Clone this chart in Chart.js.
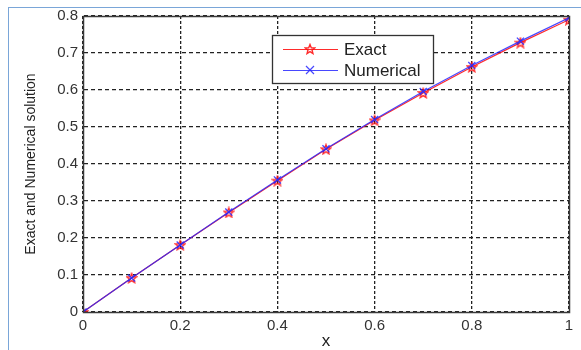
<!DOCTYPE html>
<html>
<head>
<meta charset="utf-8">
<script src="https://cdn.jsdelivr.net/npm/chart.js@4"></script>
<style>
  html, body { margin: 0; padding: 0; background: #fff; overflow: hidden; }
  #wrap { position: relative; width: 581px; height: 350px; }
  #frame { position: absolute; left: 8px; top: 7px; width: 600px; height: 400px;
           border-left: 1px solid #7aa6d8; border-top: 1px solid #7aa6d8; pointer-events: none; }
</style>
</head>
<body>
<div id="wrap">
  <canvas id="grafico" width="581" height="350"></canvas>
  <div id="frame"></div>
</div>
<script>
const xValores = [0, 0.1, 0.2, 0.3, 0.4, 0.5, 0.6, 0.7, 0.8, 0.9, 1];
const exata = [0, 0.092, 0.181, 0.269, 0.355, 0.440, 0.518, 0.592, 0.662, 0.728, 0.790];
const numerica = [0, 0.092, 0.181, 0.270, 0.357, 0.441, 0.520, 0.596, 0.666, 0.732, 0.795];
const nomes = ['Exact', 'Numerical'];

const fonte = '"Liberation Sans", Arial, sans-serif';

// rotulos sem zeros sobrando (1 em vez de 1.0)
const rotulo = v => String(Number(v.toFixed(2)));

// estrela de 5 pontas (contorno) como no matlab
function estrela(cor) {
  const c = document.createElement('canvas');
  c.width = 12; c.height = 12;
  const g = c.getContext('2d');
  g.strokeStyle = cor;
  g.lineWidth = 1.4;
  g.beginPath();
  for (let i = 0; i < 10; i++) {
    const r = i % 2 ? 2.2 : 5;
    const a = -Math.PI / 2 + i * Math.PI / 5;
    const px = 6 + r * Math.cos(a), py = 6.5 + r * Math.sin(a);
    if (i) g.lineTo(px, py); else g.moveTo(px, py);
  }
  g.closePath();
  g.stroke();
  return c;
}

const corExata = 'rgba(255,20,20,0.9)';
const corNum = 'rgba(40,40,255,0.85)';
const imgEstrela = estrela(corExata);

const caixa = {
  id: 'caixa',
  afterDraw(chart) {
    const { ctx, chartArea: a } = chart;
    ctx.save();
    ctx.strokeStyle = '#3a3a3a';
    ctx.lineWidth = 1.5;
    ctx.strokeRect(Math.round(a.left) + 0.5, Math.round(a.top) + 0.5,
                   Math.round(a.right - a.left), Math.round(a.bottom - a.top));

    // legenda dentro do grafico
    const lx = 272, ly = 35, lw = 161, lh = 48;
    ctx.fillStyle = '#fff';
    ctx.fillRect(lx, ly, lw, lh);
    ctx.lineWidth = 1.3;
    ctx.strokeStyle = '#333';
    ctx.strokeRect(lx + 0.5, ly + 0.5, lw, lh);
    const linhas = [
      { y: 49, cor: corExata },
      { y: 70, cor: corNum }
    ];
    linhas.forEach((l, i) => {
      ctx.strokeStyle = l.cor;
      ctx.lineWidth = 1.2;
      ctx.beginPath();
      ctx.moveTo(283, l.y + 0.5);
      ctx.lineTo(338, l.y + 0.5);
      ctx.stroke();
      if (i === 0) {
        ctx.drawImage(imgEstrela, 310 - 6, l.y - 6);
      } else {
        ctx.beginPath();
        ctx.moveTo(306, l.y - 4); ctx.lineTo(314, l.y + 4);
        ctx.moveTo(314, l.y - 4); ctx.lineTo(306, l.y + 4);
        ctx.stroke();
      }
      ctx.fillStyle = '#222';
      ctx.font = '17px ' + fonte;
      ctx.textBaseline = 'middle';
      ctx.fillText(nomes[i], 344, l.y + 1);
    });
    ctx.restore();
  }
};

const ctx = document.getElementById('grafico').getContext('2d');
const grafico = new Chart(ctx, {
  type: 'line',
  data: {
    datasets: [{
      label: nomes[0],
      data: xValores.map((x, i) => ({ x: x, y: exata[i] })),
      borderColor: corExata,
      borderWidth: 1.2,
      pointStyle: imgEstrela,
      pointRadius: 5,
      order: 2
    }, {
      label: nomes[1],
      data: xValores.map((x, i) => ({ x: x, y: numerica[i] })),
      borderColor: corNum,
      borderWidth: 1.2,
      pointStyle: 'crossRot',
      pointRadius: 5,
      pointBorderWidth: 1.3,
      pointBorderColor: corNum,
      order: 1
    }]
  },
  options: {
    responsive: false,
    animation: false,
    layout: { padding: { left: 0, top: 16, right: 12, bottom: 0 } },
    plugins: { legend: { display: false }, tooltip: { enabled: false } },
    scales: {
      x: {
        type: 'linear',
        min: 0, max: 1,
        ticks: { stepSize: 0.2, color: '#333', font: { family: fonte, size: 15 }, padding: 5, callback: rotulo },
        grid: { color: '#222', lineWidth: 1.3, drawTicks: false },
        border: { dash: [3, 2], color: '#3a3a3a' },
        title: { display: true, text: 'x', color: '#222', font: { family: fonte, size: 17, lineHeight: 1 }, padding: { top: 0, bottom: 0 } },
        afterFit(s) { s.height = 38; }
      },
      y: {
        min: 0, max: 0.8,
        ticks: { stepSize: 0.1, color: '#333', font: { family: fonte, size: 15 }, padding: 5, callback: rotulo },
        grid: { color: '#222', lineWidth: 1.3, drawTicks: false },
        border: { dash: [4, 3], color: '#3a3a3a' },
        title: { display: true, text: 'Exact and Numerical solution', color: '#222', font: { family: fonte, size: 14 }, padding: { top: 23, bottom: 0 } },
        afterFit(s) { s.width = 83; }
      }
    }
  },
  plugins: [caixa]
});
</script>
</body>
</html>
